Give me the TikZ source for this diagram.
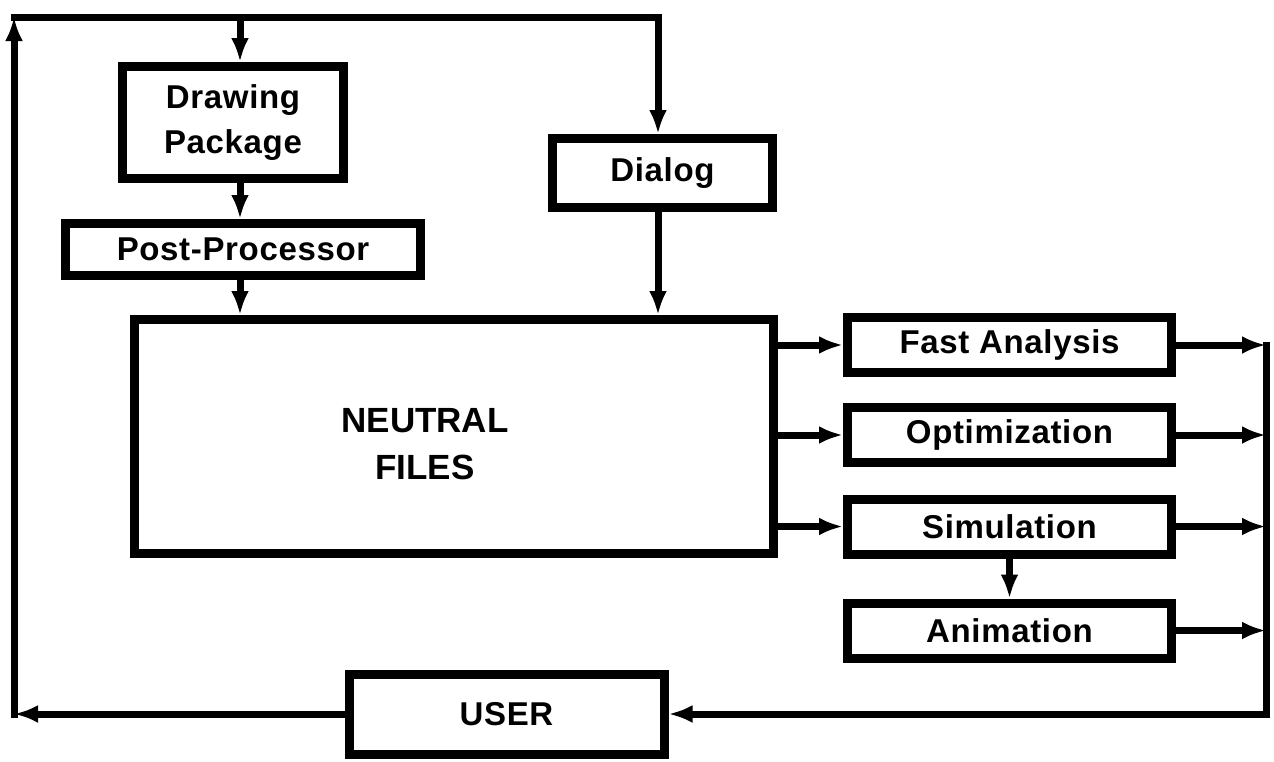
\documentclass[tikz,border=0pt]{standalone}
\usepackage{fontspec}
\setmainfont{Liberation Sans}
\newfontfamily\blockfont{Liberation Sans}[LetterSpace=2]
\usepackage{tikz}
\usetikzlibrary{arrows.meta}

\begin{document}
\begin{tikzpicture}[
        x=0.5pt, y=-0.5pt,
        block/.style={draw, line width=4.5pt, inner sep=0pt, align=center, minimum width=162pt, minimum height=27.5pt,
            font=\blockfont\bfseries\fontsize{16.5}{22.5}\selectfont},
        store/.style={font=\bfseries\fontsize{17.5}{23.5}\selectfont, align=center},
        line/.style={-{Latex[length=12pt, width=9pt]}, line width=3.5pt, line cap=rect},
        wire/.style={line width=3.5pt, line cap=rect}
    ]
        \useasboundingbox (0,0) rectangle (1274,761);

        \node[block, minimum width=110.5pt, minimum height=56pt] (drawpkg) at (233,122.5) {Drawing\\Package};
        \node[block, minimum width=177.5pt, minimum height=26pt] (postproc) at (243,249.5) {Post-Processor};
        \node[block, minimum width=110pt, minimum height=34.5pt] (dialog) at (662.5,173) {Dialog};
        \node[block, minimum width=319.5pt, minimum height=117pt] (neutral) at (454,436.5) {};
        \node[store] (neutraltext) at (425,444) {NEUTRAL\\FILES};
        \node[block] (fast) at (1009.5,345) {Fast Analysis};
        \node[block] (optim) at (1009.5,435) {Optimization};
        \node[block] (simul) at (1009.5,526.5) {Simulation};
        \node[block] (anim) at (1009.5,630.5) {Animation};
        \node[block, minimum width=157.5pt, minimum height=40pt] (user) at (506.5,714) {USER};

        % feedback loop round the outside
        \coordinate (cornerbl) at (14,714);
        \coordinate (cornertl) at (14,17);
        \coordinate (cornertr) at (658,17);
        \coordinate (tapdraw) at (240,17);
        \coordinate (cornerbr) at (1266,714);

        \draw[line] (user.west) -- (cornerbl);
        \draw[line] (cornerbl) -- (cornertl);
        \draw[wire] (cornertl) -- (cornertr);
        \draw[line] (tapdraw) -- (tapdraw |- drawpkg.north);
        \draw[line] (cornertr) -- (cornertr |- dialog.north);

        \draw[line] (drawpkg.south -| tapdraw) -- (postproc.north -| tapdraw);
        \draw[line] (postproc.south -| tapdraw) -- (neutral.north -| tapdraw);
        \draw[line] (dialog.south -| cornertr) -- (neutral.north -| cornertr);

        \foreach \tool in {fast,optim,simul} {
            \draw[line] (neutral.east |- \tool) -- (\tool.west);
        }
        \draw[line] (simul) -- (anim);

        \foreach \tool in {fast,optim,simul,anim} {
            \draw[line] (\tool.east) -- (\tool -| cornerbr);
        }
        \draw[line] (fast -| cornerbr) -- (cornerbr) -- (user.east);
    \end{tikzpicture}
\end{document}
